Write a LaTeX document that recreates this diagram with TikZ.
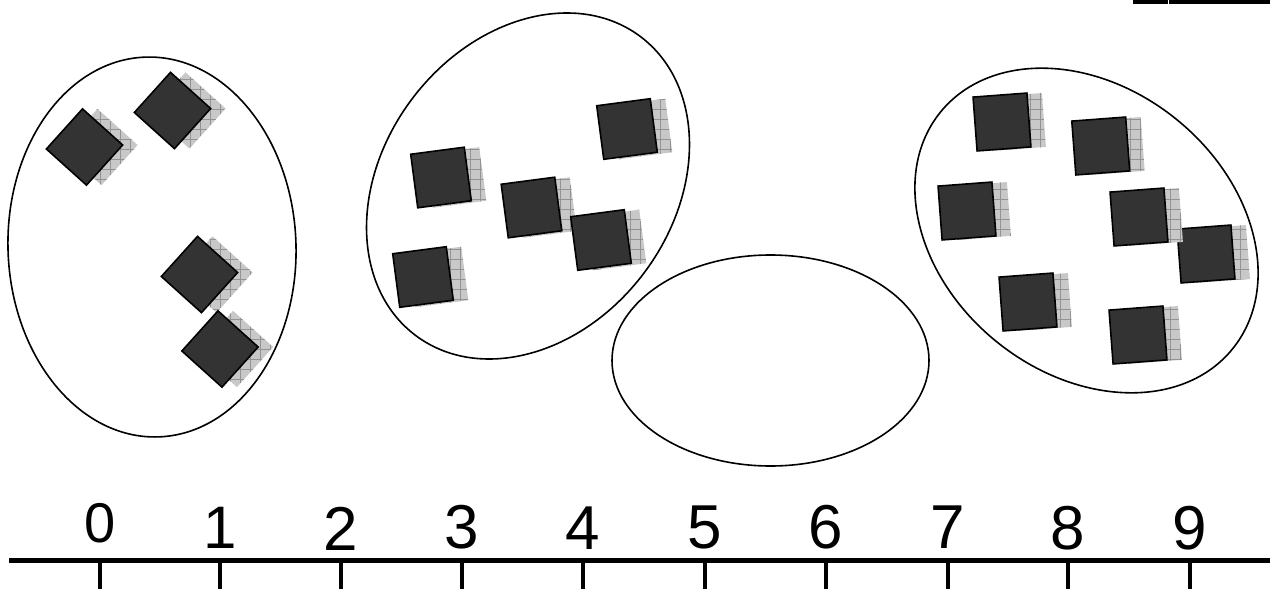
\documentclass[tikz,border=0pt]{standalone}
\usepackage{fontspec}
\setmainfont{Liberation Sans}
\usetikzlibrary{patterns.meta}
\definecolor{sqdark}{HTML}{333333}
\definecolor{shfill}{HTML}{C8C8C8}
\definecolor{shline}{HTML}{939393}
\tikzset{
  blob/.style={draw=black,line width=1.6pt},
  sqbox/.style={fill=sqdark,draw=black,line width=1.6pt,line join=miter},
  shadowbox/.style={fill=shfill},
  axisline/.style={line width=5pt},
  tickline/.style={line width=4pt},
  numlabel/.style={anchor=base,inner sep=0pt},
  topbar/.style={line width=4.5pt}
}
\newcommand\mysquare[3]{%
  \begin{scope}[shift={(#1+15,#2)},rotate=#3]
    \fill[shadowbox] (-27,-27) rectangle (27,27);
    \fill[pattern={Hatch[angle=0,distance=10pt,line width=0.6pt]},pattern color=shline] (-27,-27) rectangle (27,27);
  \end{scope}
  \begin{scope}[shift={(#1,#2)},rotate=#3]
    \draw[sqbox] (-27,-27) rectangle (27,27);
  \end{scope}}
\newcommand\myblob[5]{%
  \begin{scope}[shift={(#1,#2)},rotate=#3]
    \draw[blob] (0,0) ellipse [x radius=#4, y radius=#5];
  \end{scope}}
\begin{document}
\begin{tikzpicture}[x=1pt,y=-1pt]
\useasboundingbox (0,0) rectangle (1270,589);
% top-right bars
\draw[topbar] (1135,-30) rectangle (1166,2);
\draw[topbar] (1171,-30) rectangle (1290,2);
% ellipses
\myblob{152}{247}{2}{144}{190}
\myblob{528}{186}{53}{187}{145}
\myblob{770.5}{360.5}{0}{158.5}{105.5}
\myblob{1086.5}{230.5}{-39}{188}{143}
% left group
\mysquare{84.5}{147}{48}
\mysquare{172.5}{110.5}{48}
\mysquare{199.5}{274.5}{48}
\mysquare{220}{349}{48}
% middle group
\mysquare{441}{177.5}{7.5}
\mysquare{531.5}{207.5}{7.5}
\mysquare{627}{129}{7.5}
\mysquare{601}{240}{7.5}
\mysquare{423}{277}{7.5}
% right group
\mysquare{1002}{122}{4.3}
\mysquare{1100.75}{146}{4.3}
\mysquare{967}{211}{4.3}
\mysquare{1206}{254}{4.3}
\mysquare{1139}{217}{4.3}
\mysquare{1028}{302}{4.3}
\mysquare{1138}{335}{4.3}
% axis
\coordinate (axL) at (9,560);
\coordinate (axR) at (1275,560);
\draw[axisline] (axL) -- (axR);
\foreach \i/\x/\b/\s in {0/100/542/56,1/220/548/60,2/341/550/62,3/462/548/62,4/583/549/62,5/705/548/62,6/826/548/62,7/948/548/62,8/1068/549/62,9/1190/549/62}{
  \coordinate (t\i) at (\x,560);
  \coordinate (b\i) at (\x,592);
  \draw[tickline] (t\i) -- (b\i);
  \node[numlabel,font=\fontsize{\s}{\s}\selectfont] (n\i) at (\x,\b) {\i};
}
\end{tikzpicture}
\end{document}
